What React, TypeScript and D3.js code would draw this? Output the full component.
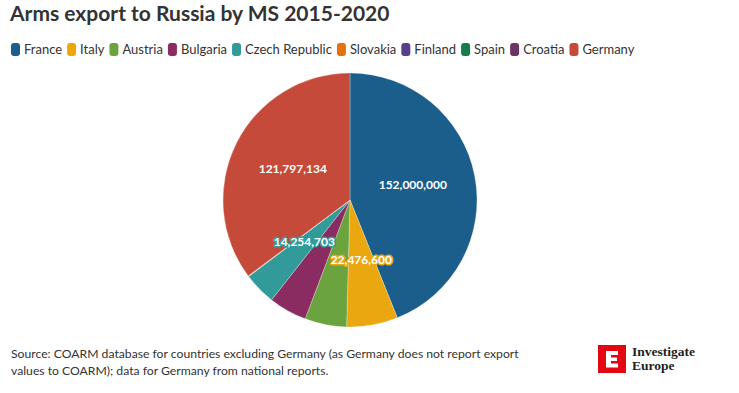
import React from "react";
import * as d3 from "d3";

// data
const countries = [
  "France",
  "Italy",
  "Austria",
  "Bulgaria",
  "Czech Republic",
  "Slovakia",
  "Finland",
  "Spain",
  "Croatia",
  "Germany",
];
const exportsEur = [
  152000000, 22476600, 18400000, 16800000, 14254703, 120000, 60000, 40000,
  80000, 121797134,
];
const palette = [
  "#1b5e8b",
  "#eba70f",
  "#6ba43f",
  "#8a2b62",
  "#329b99",
  "#e2720b",
  "#573f8d",
  "#167d4a",
  "#6c3466",
  "#c54a3a",
];
const labelled = ["France", "Italy", "Czech Republic", "Germany"];
const haloed = ["Italy", "Czech Republic"];

const title = "Arms export to Russia by MS 2015-2020";
const sourceLines = [
  "Source: COARM database for countries excluding Germany (as Germany does not report export",
  "values to COARM); data for Germany from national reports.",
];

const FONT = "Lato, 'Noto Sans', sans-serif";

let ctx: CanvasRenderingContext2D | null = null;
const measure = (txt: string, font: string) => {
  if (!ctx) ctx = document.createElement("canvas").getContext("2d");
  ctx!.font = font;
  return ctx!.measureText(txt).width;
};

const App = () => {
  const width = 739;
  const height = 393;
  const cx = 350;
  const cy = 200;
  const radius = 127;

  const color = d3.scaleOrdinal<string, string>().domain(countries).range(palette);
  const fmt = d3.format(",");

  const pie = d3
    .pie<number>()
    .sort(null)
    .value((d) => d);
  const slices = pie(exportsEur);
  const arc = d3.arc<any>().innerRadius(0).outerRadius(radius);
  const labelArc = d3.arc<any>().innerRadius(128 * 0.5).outerRadius(128 * 0.5);

  // legend layout, measured
  const legendFont = `13px ${FONT}`;
  let lx = 11;
  const legendItems = countries.map((c) => {
    const item = { name: c, x: lx };
    lx += 9 + 4 + measure(c, legendFont) + 5;
    return item;
  });

  return (
    <svg
      width={width}
      height={height}
      style={{ position: "absolute", left: 0, top: 0, background: "#fff" }}
    >
      <text
        x={10}
        y={21}
        fontFamily={FONT}
        fontWeight={700}
        fontSize={21}
        fill="#333"
      >
        {title}
      </text>

      <g>
        {legendItems.map((it) => (
          <g key={it.name} transform={`translate(${it.x},43)`}>
            <rect width={9} height={13} rx={3} fill={color(it.name)} />
            <text
              x={13}
              y={11}
              fontFamily={FONT}
              fontSize={13}
              fill="#333"
            >
              {it.name}
            </text>
          </g>
        ))}
      </g>

      <g transform={`translate(${cx},${cy})`}>
        {slices.map((s, i) => (
          <path
            key={countries[i]}
            d={arc(s) as string}
            fill={color(countries[i])}
            stroke="rgba(255,255,255,0.55)"
            strokeWidth={0.5}
          />
        ))}
        {slices.map((s, i) => {
          const name = countries[i];
          if (!labelled.includes(name)) return null;
          const [x, y] = labelArc.centroid(s);
          const halo = haloed.includes(name);
          return (
            <text
              key={name}
              x={x}
              y={y - 3}
              dy="0.35em"
              textAnchor="middle"
              fontFamily={FONT}
              fontWeight={700}
              fontSize={12}
              fill="#fff"
              stroke={halo ? color(name) : "none"}
              strokeWidth={halo ? 3 : 0}
              strokeLinejoin="round"
              style={{ paintOrder: "stroke" }}
            >
              {fmt(s.data)}
            </text>
          );
        })}
      </g>

      <g fontFamily={FONT} fontSize={12.2} fill="#333">
        {sourceLines.map((l, i) => (
          <text key={i} x={11} y={358 + i * 17}>
            {l}
          </text>
        ))}
      </g>

      <g transform="translate(598,345)">
        <rect width={28} height={28} fill="#e30613" />
        <path
          d="M8 6 H20 V10 H13 V12.5 H19 V16 H13 V18.5 H20 V22.5 H8 Z"
          fill="#fff"
        />
        <g
          fontFamily="'Liberation Serif', 'DejaVu Serif', serif"
          fontWeight={700}
          fontSize={13.5}
          fill="#231f20"
        >
          <text x={34} y={11}>
            Investigate
          </text>
          <text x={34} y={25}>
            Europe
          </text>
        </g>
      </g>
    </svg>
  );
};

export default App;
